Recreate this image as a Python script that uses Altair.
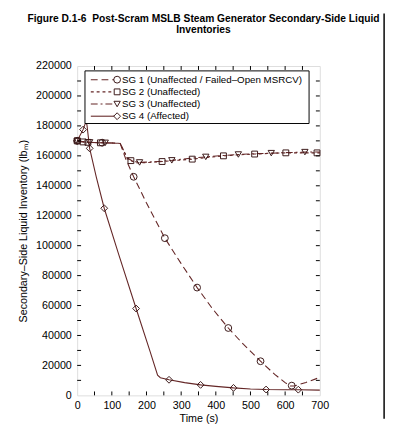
import altair as alt
import pandas as pd

# ---------------- text ----------------
TITLE_LINES = ["Figure D.1-6\u00a0 Post-Scram MSLB Steam Generator Secondary-Side Liquid",
               "Inventories"]
X_TITLE = "Time (s)"
Y_TITLE = "Secondary\u2013Side Liquid Inventory (lb\u2098)"
LABELS = ["SG 1 (Unaffected / Failed\u2013Open MSRCV)",
          "SG 2 (Unaffected)",
          "SG 3 (Unaffected)",
          "SG 4 (Affected)"]

# ---------------- data ----------------
sg1_t = [0, 10, 30, 60, 100, 124, 140, 163, 200, 253, 300, 346, 390, 436, 480, 529, 570, 600, 615, 625, 660, 700]
sg1_v = [170000, 169500, 169000, 168800, 168600, 168300, 158000, 146000, 128500, 105000, 88000, 72000,
         58000, 45000, 34000, 22800, 14000, 8500, 6300, 6200, 8600, 12000]
sg1_mt = [0, 72, 163, 253, 346, 436, 529, 619]
sg1_mv = [170000, 168800, 146000, 105000, 72000, 45000, 22800, 6500]

sg2_t = [0, 30, 60, 100, 124, 145, 155, 170, 200, 245, 290, 332, 380, 422, 470, 512, 560, 602, 650, 692, 700]
sg2_v = [170000, 169000, 168800, 168600, 168300, 158000, 156800, 155300, 155500, 156200, 157000, 157800,
         159000, 160000, 160700, 161200, 161700, 162000, 162000, 162000, 162000]
sg2_mt = [0, 17, 31, 67, 155, 245, 332, 422, 512, 602, 692]
sg2_mv = [170000, 169300, 169000, 168700, 156800, 156200, 157800, 160000, 161200, 162000, 162000]

sg3_t = [0, 30, 60, 100, 124, 145, 160, 180, 220, 273, 320, 371, 420, 465, 510, 560, 610, 657, 700]
sg3_v = [170000, 169000, 168800, 168600, 168300, 158500, 156500, 155600, 156000, 157000, 158200, 159300,
         160200, 160900, 161400, 161800, 162200, 162500, 162600]
sg3_mt = [0, 36, 81, 180, 273, 371, 465, 560, 657]
sg3_mv = [170000, 169000, 168700, 155600, 157000, 159300, 160900, 161800, 162500]

sg4_t = [0, 17, 24, 28, 36, 55, 78, 120, 170, 210, 232, 240, 265, 310, 356, 400, 451, 500, 545, 600, 638, 700]
sg4_v = [170000, 177500, 182000, 181000, 165000, 146000, 125000, 94000, 58000, 29500, 13500, 11800,
         10400, 8500, 7000, 6000, 5000, 4300, 3900, 3800, 3800, 3500]
sg4_mt = [0, 17, 36, 78, 170, 265, 356, 451, 545, 638]
sg4_mv = [170000, 177500, 165000, 125000, 58000, 10400, 7000, 5000, 3900, 3800]

X_LABEL_VALUES = [0, 100, 200, 300, 400, 500, 600, 700]
Y_LABEL_VALUES = [0, 20000, 40000, 60000, 80000, 100000, 120000, 140000, 160000, 180000, 200000, 220000]
X_TICKS = [50, 100, 150, 200, 250, 300, 350, 400, 450, 500, 550, 600, 650]
Y_TICKS = [10000, 20000, 30000, 40000, 50000, 60000, 70000, 80000, 90000, 100000, 110000,
           120000, 130000, 140000, 150000, 160000, 170000, 180000, 190000, 200000, 210000]

# ---------------- style ----------------
W, H = 249, 338
FONT = "Liberation Sans"
LINE_C = "#642626"
MARK_C = "#3a1818"

xs = alt.Scale(domain=[0, 700], nice=False, zero=False)
ys = alt.Scale(domain=[0, 220000], nice=False, zero=False)
xaxis = alt.Axis(values=X_LABEL_VALUES, ticks=False, domain=False, grid=False, labelFlush=False,
                 labelOverlap=False, labelPadding=4, labelFontSize=11, labelFont=FONT, labelColor="black",
                 title=X_TITLE, titleFont=FONT, titleFontSize=11, titleFontWeight="normal",
                 titleColor="black", titlePadding=3)
yaxis = alt.Axis(values=Y_LABEL_VALUES, format="d", ticks=False, domain=False, grid=False,
                 labelFlush=False, labelOverlap=False, labelPadding=6, labelFontSize=11, labelFont=FONT,
                 labelColor="black", title=Y_TITLE, titleFont=FONT, titleFontSize=11,
                 titleFontWeight="normal", titleColor="black", titlePadding=7)

X = lambda f: alt.X(f, type="quantitative", scale=xs, axis=xaxis)
Y = lambda f: alt.Y(f, type="quantitative", scale=ys, axis=yaxis)

series = [
    (sg1_t, sg1_v, sg1_mt, sg1_mv, [7, 4], "circle", 49),
    (sg2_t, sg2_v, sg2_mt, sg2_mv, [3, 3], "square", 36),
    (sg3_t, sg3_v, sg3_mt, sg3_mv, [7, 3, 2, 3], "triangle-down", 42),
    (sg4_t, sg4_v, sg4_mt, sg4_mv, None, "diamond", 49),
]

layers = []
for t, v, mt, mv, dash, shape, size in series:
    df = pd.DataFrame({"t": t, "v": v})
    kw = dict(color=LINE_C, strokeWidth=1.1)
    if dash:
        kw["strokeDash"] = dash
    layers.append(alt.Chart(df).mark_line(**kw).encode(x=X("t"), y=Y("v")))
for t, v, mt, mv, dash, shape, size in series:
    mdf = pd.DataFrame({"t": mt, "v": mv})
    layers.append(alt.Chart(mdf).mark_point(shape=shape, filled=False, size=size, color=MARK_C,
                                            strokeWidth=1, opacity=1).encode(x=X("t"), y=Y("v")))

# frame ticks (inside)
xt = pd.DataFrame({"t": X_TICKS})
yt = pd.DataFrame({"v": Y_TICKS})
layers.append(alt.Chart(xt).mark_rule(color="black", strokeWidth=1).encode(
    x=X("t"), y=alt.value(H), y2=alt.value(H - 4)))
layers.append(alt.Chart(xt).mark_rule(color="black", strokeWidth=1).encode(
    x=X("t"), y=alt.value(0), y2=alt.value(4)))
layers.append(alt.Chart(yt).mark_rule(color="black", strokeWidth=1).encode(
    y=Y("v"), x=alt.value(0), x2=alt.value(4)))
layers.append(alt.Chart(yt).mark_rule(color="black", strokeWidth=1).encode(
    y=Y("v"), x=alt.value(W), x2=alt.value(W - 4)))

# legend box
one = pd.DataFrame({"k": [0]})
layers.append(alt.Chart(one).mark_rect(fill="white", stroke="black", strokeWidth=1).encode(
    x=alt.value(8), x2=alt.value(238), y=alt.value(5), y2=alt.value(59)))
rows_y = [14, 26.5, 39, 51.5]
for (t, v, mt, mv, dash, shape, size), label, ry in zip(series, LABELS, rows_y):
    kw = dict(color=LINE_C, strokeWidth=1.1)
    if dash:
        kw["strokeDash"] = dash
    layers.append(alt.Chart(one).mark_rule(**kw).encode(
        x=alt.value(14), x2=alt.value(38), y=alt.value(ry)))
    layers.append(alt.Chart(one).mark_point(shape=shape, filled=False, size=size, color=MARK_C,
                                            strokeWidth=1, opacity=1).encode(
        x=alt.value(41), y=alt.value(ry)))
    layers.append(alt.Chart(one).mark_text(align="left", baseline="middle", font=FONT, fontSize=10,
                                           color="black").encode(
        x=alt.value(46), y=alt.value(ry), text=alt.value(label)))

# title as two centred text lines above the plot
for line, ty in zip(TITLE_LINES, [-45, -34]):
    layers.append(alt.Chart(one).mark_text(align="center", baseline="alphabetic", font=FONT,
                                           fontSize=10.5, fontWeight="bold", color="black").encode(
        x=alt.value(129.6), y=alt.value(ty), text=alt.value(line)))

# page border line on the right
layers.append(alt.Chart(one).mark_rule(color="black", strokeWidth=1.5).encode(
    x=alt.value(315), y=alt.value(-54), y2=alt.value(362)))

chart = alt.layer(*layers).properties(
    width=W, height=H,
    autosize=alt.AutoSizeParams(type="none"),
    padding={"left": 71, "top": 54, "right": 70, "bottom": 30},
).configure_view(stroke="black", strokeWidth=1).configure(background="white")

chart.save("out.html", embed_options={"renderer": "svg", "actions": False})
